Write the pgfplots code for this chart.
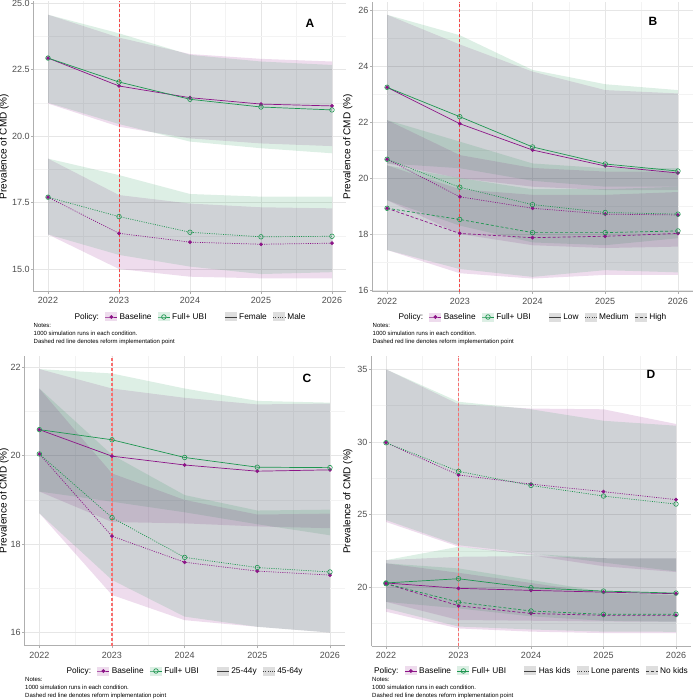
\documentclass[border=0pt]{standalone}
\usepackage{fontspec}
\setmainfont{Liberation Sans}
\usepackage{pgfplots}
\pgfplotsset{compat=1.18}

\definecolor{cpur}{RGB}{140,20,135}
\definecolor{cgrn}{RGB}{30,150,80}
\definecolor{tickc}{RGB}{77,77,77}
\definecolor{axc}{RGB}{175,175,175}
\definecolor{gmaj}{RGB}{230,230,230}
\definecolor{gmin}{RGB}{243,243,243}
\definecolor{lineA}{RGB}{245,70,70}
\definecolor{lineC}{RGB}{248,110,110}
\definecolor{keyg}{RGB}{222,222,222}

\pgfplotsset{
 panel/.style={
  scale only axis,
  axis x line*=bottom, axis y line*=left,
  axis line style={draw=axc, line width=0.8pt, -},
  x axis line style={-}, y axis line style={-},
  xmin=2021.8, xmax=2026.2,
  xtick={2022,2023,2024,2025,2026},
  minor xtick={2022.5,2023.5,2024.5,2025.5},
  /pgf/number format/1000 sep={},
  /pgf/number format/assume math mode=true,
  grid=both,
  major grid style={draw=gmaj, line width=0.6pt},
  minor grid style={draw=gmin, line width=0.4pt},
  tick align=outside,
  major tick length=2.5pt,
  minor tick length=0pt,
  tick style={draw=axc, line width=0.6pt},
  tick label style={font=\fontsize{9}{10}\selectfont, text=tickc},
  yticklabel style={inner xsep=1.5pt},
  ylabel={Prevalence of CMD (\%)},
  ylabel style={font=\fontsize{9.5}{11}\selectfont, inner sep=0pt},
  legend columns=-1,
  legend style={draw=none, fill=none, font=\fontsize{8.3}{9}\selectfont, anchor=center,
    /tikz/every even column/.append style={column sep=4pt}},
  legend cell align=left,
 },
 ylab/.style={every axis y label/.style={at={([xshift=-#1]axis description cs:0,0.5)}, rotate=90, anchor=south}},
 rib/.style={draw=none, fill=#1, fill opacity=0.15, forget plot, mark=none},
 lb/.style={cpur, line width=0.7pt, mark=*, mark size=1.5pt, mark options={solid}, forget plot},
 lu/.style={cgrn, line width=0.7pt, mark=o, mark size=2.3pt, mark options={solid, line width=0.6pt}, forget plot},
 sol/.style={solid},
 dot/.style={dash pattern=on 1pt off 1.3pt},
 dsh/.style={dash pattern=on 3pt off 2pt},
 polb/.style={cpur, line width=0.7pt, mark=*, mark size=1.5pt,
   legend image code/.code={\path[fill=cpur, fill opacity=0.15, draw=none] (0pt,-4.5pt) rectangle (12pt,4.5pt);
   \draw[mark repeat=2,mark phase=2] plot coordinates {(0pt,0pt) (6pt,0pt) (12pt,0pt)};}},
 polu/.style={cgrn, line width=0.7pt, mark=o, mark size=2.3pt,
   legend image code/.code={\path[fill=cgrn, fill opacity=0.15, draw=none] (0pt,-4.5pt) rectangle (12pt,4.5pt);
   \draw[mark repeat=2,mark phase=2] plot coordinates {(0pt,0pt) (6pt,0pt) (12pt,0pt)};}},
 ltk/.style={black!75, line width=0.6pt,
   legend image code/.code={\path[fill=keyg, draw=none] (0pt,-4.5pt) rectangle (12pt,4.5pt);
   \draw (0pt,0pt) -- (12pt,0pt);}},
}

\newcommand{\notes}{Notes:\\1000 simulation runs in each condition.\\Dashed red line denotes reform implementation point}

\begin{document}
\begin{tikzpicture}[x=1pt,y=1pt]
\path[use as bounding box] (0,0) rectangle (693,-700);

% ---------------- Panel A ----------------
\begin{axis}[panel, ylab=21.5pt, at={(33.8pt,-291.6pt)}, anchor=south west,
  width=312.4pt, height=290.2pt,
  ymin=14.15, ymax=25.06,
  ytick={15,17.5,20,22.5,25}, minor ytick={16.25,18.75,21.25,23.75},
  yticklabel style={/pgf/number format/.cd, fixed, fixed zerofill, precision=1},
  legend style={at={(0.5,-0.0875)}}]
\addplot[rib=cpur] coordinates {(2022,24.56)(2023,23.70)(2024,23.08)(2025,22.90)(2026,22.80)(2026,19.62)(2025,19.72)(2024,19.91)(2023,20.35)(2022,21.22)};
\addplot[rib=cgrn] coordinates {(2022,24.56)(2023,23.86)(2024,23.05)(2025,22.80)(2026,22.67)(2026,19.35)(2025,19.54)(2024,19.79)(2023,20.45)(2022,21.25)};
\addplot[rib=cpur] coordinates {(2022,19.15)(2023,17.78)(2024,17.46)(2025,17.32)(2026,17.28)(2026,14.65)(2025,14.65)(2024,14.71)(2023,15.00)(2022,16.30)};
\addplot[rib=cgrn] coordinates {(2022,19.15)(2023,18.53)(2024,17.82)(2025,17.72)(2026,17.72)(2026,14.88)(2025,14.81)(2024,15.09)(2023,15.53)(2022,16.30)};
\addplot[draw=lineA, dash pattern=on 3pt off 2pt, line width=0.9pt, forget plot, mark=none] coordinates {(2023,14.15)(2023,25.06)};
\addplot[lb, sol] coordinates {(2022,22.93)(2023,21.88)(2024,21.44)(2025,21.20)(2026,21.13)};
\addplot[lu, sol] coordinates {(2022,22.93)(2023,22.03)(2024,21.38)(2025,21.09)(2026,20.98)};
\addplot[lb, dot] coordinates {(2022,17.70)(2023,16.34)(2024,16.01)(2025,15.93)(2026,15.97)};
\addplot[lu, dot] coordinates {(2022,17.70)(2023,16.97)(2024,16.38)(2025,16.21)(2026,16.23)};
\addlegendimage{empty legend}\addlegendentry{Policy:}
\addlegendimage{polb}\addlegendentry{Baseline}
\addlegendimage{polu}\addlegendentry{Full+ UBI}
\addlegendimage{empty legend}\addlegendentry{\hspace*{4pt}}
\addlegendimage{ltk, solid}\addlegendentry{Female}
\addlegendimage{ltk, dot}\addlegendentry{Male}
\end{axis}

% ---------------- Panel B ----------------
\begin{axis}[panel, ylab=16.5pt, at={(372.5pt,-291.7pt)}, anchor=south west,
  width=320pt, height=290.1pt,
  ymin=15.94, ymax=26.3,
  ytick={16,18,20,22,24,26}, minor ytick={17,19,21,23,25},
  legend style={at={(0.5,-0.0872)}}]
\addplot[rib=cpur] coordinates {(2022,25.83)(2023,24.77)(2024,23.80)(2025,23.14)(2026,23.02)(2026,19.57)(2025,19.57)(2024,19.69)(2023,19.99)(2022,20.52)};
\addplot[rib=cgrn] coordinates {(2022,25.83)(2023,25.10)(2024,23.86)(2025,23.35)(2026,23.14)(2026,19.69)(2025,19.69)(2024,19.90)(2023,20.35)(2022,20.52)};
\addplot[rib=cpur] coordinates {(2022,22.07)(2023,20.82)(2024,20.36)(2025,20.23)(2026,20.23)(2026,17.55)(2025,17.50)(2024,17.60)(2023,18.00)(2022,19.21)};
\addplot[rib=cgrn] coordinates {(2022,22.07)(2023,21.30)(2024,20.52)(2025,20.35)(2026,20.35)(2026,17.85)(2025,17.60)(2024,17.70)(2023,18.30)(2022,19.21)};
\addplot[rib=cpur] coordinates {(2022,20.45)(2023,19.60)(2024,19.40)(2025,19.40)(2026,19.50)(2026,16.54)(2025,16.54)(2024,16.41)(2023,16.60)(2022,17.43)};
\addplot[rib=cgrn] coordinates {(2022,20.45)(2023,20.00)(2024,19.60)(2025,19.60)(2026,19.69)(2026,16.63)(2025,16.71)(2024,16.47)(2023,16.75)(2022,17.43)};
\addplot[draw=lineA, dash pattern=on 3pt off 2pt, line width=0.9pt, forget plot, mark=none] coordinates {(2023,15.94)(2023,26.3)};
\addplot[lb, sol] coordinates {(2022,23.24)(2023,21.94)(2024,21.00)(2025,20.43)(2026,20.18)};
\addplot[lu, sol] coordinates {(2022,23.24)(2023,22.19)(2024,21.11)(2025,20.50)(2026,20.25)};
\addplot[lb, dot] coordinates {(2022,20.67)(2023,19.33)(2024,18.92)(2025,18.71)(2026,18.68)};
\addplot[lu, dot] coordinates {(2022,20.67)(2023,19.67)(2024,19.05)(2025,18.77)(2026,18.71)};
\addplot[lb, dsh] coordinates {(2022,18.92)(2023,18.02)(2024,17.87)(2025,17.92)(2026,18.02)};
\addplot[lu, dsh] coordinates {(2022,18.92)(2023,18.52)(2024,18.05)(2025,18.05)(2026,18.11)};
\addlegendimage{empty legend}\addlegendentry{Policy:}
\addlegendimage{polb}\addlegendentry{Baseline}
\addlegendimage{polu}\addlegendentry{Full+ UBI}
\addlegendimage{empty legend}\addlegendentry{\hspace*{4pt}}
\addlegendimage{ltk, solid}\addlegendentry{Low}
\addlegendimage{ltk, dot}\addlegendentry{Medium}
\addlegendimage{ltk, dsh}\addlegendentry{High}
\end{axis}

% ---------------- Panel C ----------------
\begin{axis}[panel, ylab=12.5pt, at={(24.8pt,-645.8pt)}, anchor=south west,
  width=319.7pt, height=290pt,
  ymin=15.7, ymax=22.26,
  ytick={16,18,20,22}, minor ytick={17,19,21},
  legend style={at={(0.5,-0.0869)}}]
\addplot[rib=cpur] coordinates {(2022,21.96)(2023,21.52)(2024,21.31)(2025,21.16)(2026,21.18)(2026,18.36)(2025,18.40)(2024,18.47)(2023,18.50)(2022,19.19)};
\addplot[rib=cgrn] coordinates {(2022,21.96)(2023,21.86)(2024,21.52)(2025,21.24)(2026,21.20)(2026,18.20)(2025,18.45)(2024,18.72)(2023,18.96)(2022,19.19)};
\addplot[rib=cpur] coordinates {(2022,21.52)(2023,19.60)(2024,19.00)(2025,18.67)(2026,18.69)(2026,16.00)(2025,16.13)(2024,16.28)(2023,16.85)(2022,18.70)};
\addplot[rib=cgrn] coordinates {(2022,21.52)(2023,20.02)(2024,19.11)(2025,18.76)(2026,18.78)(2026,16.00)(2025,16.13)(2024,16.36)(2023,17.19)(2022,18.70)};
\addplot[draw=lineC, dash pattern=on 3pt off 2pt, line width=1.1pt, forget plot, mark=none] coordinates {(2023,15.7)(2023,22.26)};
\addplot[lb, sol] coordinates {(2022,20.59)(2023,19.99)(2024,19.79)(2025,19.65)(2026,19.68)};
\addplot[lu, sol] coordinates {(2022,20.59)(2023,20.36)(2024,19.96)(2025,19.74)(2026,19.73)};
\addplot[lb, dot] coordinates {(2022,20.04)(2023,18.18)(2024,17.59)(2025,17.39)(2026,17.30)};
\addplot[lu, dot] coordinates {(2022,20.04)(2023,18.60)(2024,17.70)(2025,17.47)(2026,17.37)};
\addlegendimage{empty legend}\addlegendentry{Policy:}
\addlegendimage{polb}\addlegendentry{Baseline}
\addlegendimage{polu}\addlegendentry{Full+ UBI}
\addlegendimage{empty legend}\addlegendentry{\hspace*{4pt}}
\addlegendimage{ltk, solid}\addlegendentry{25-44y}
\addlegendimage{ltk, dot}\addlegendentry{45-64y}
\end{axis}

% ---------------- Panel D ----------------
\begin{axis}[panel, ylab=15.5pt, at={(371.5pt,-646.3pt)}, anchor=south west,
  width=319pt, height=290.2pt,
  ymin=15.94, ymax=35.91,
  ytick={20,25,30,35}, minor ytick={17.5,22.5,27.5,32.5},
  legend style={at={(0.5,-0.085)}}]
\addplot[rib=cpur] coordinates {(2022,35.00)(2023,32.60)(2024,32.30)(2025,32.25)(2026,31.24)(2026,21.05)(2025,21.45)(2024,22.20)(2023,22.80)(2022,24.50)};
\addplot[rib=cgrn] coordinates {(2022,35.00)(2023,32.77)(2024,32.25)(2025,31.46)(2026,31.12)(2026,21.10)(2025,21.70)(2024,22.34)(2023,22.90)(2022,24.63)};
\addplot[rib=cpur] coordinates {(2022,21.87)(2023,22.10)(2024,22.15)(2025,22.00)(2026,21.99)(2026,17.63)(2025,17.65)(2024,17.70)(2023,17.75)(2022,19.00)};
\addplot[rib=cgrn] coordinates {(2022,21.87)(2023,22.79)(2024,22.30)(2025,22.00)(2026,21.99)(2026,17.63)(2025,17.70)(2024,18.00)(2023,18.55)(2022,19.00)};
\addplot[rib=cpur] coordinates {(2022,21.65)(2023,21.00)(2024,20.30)(2025,19.60)(2026,19.47)(2026,16.85)(2025,16.85)(2024,16.95)(2023,17.17)(2022,18.32)};
\addplot[rib=cgrn] coordinates {(2022,21.65)(2023,21.30)(2024,20.50)(2025,19.70)(2026,19.50)(2026,16.94)(2025,16.95)(2024,17.10)(2023,17.30)(2022,18.55)};
\addplot[draw=lineC, dash pattern=on 3pt off 2pt, line width=1.1pt, forget plot, mark=none] coordinates {(2023,15.94)(2023,35.91)};
\addplot[lb, sol] coordinates {(2022,20.30)(2023,19.93)(2024,19.79)(2025,19.67)(2026,19.56)};
\addplot[lu, sol] coordinates {(2022,20.30)(2023,20.59)(2024,19.97)(2025,19.74)(2026,19.60)};
\addplot[lb, dot] coordinates {(2022,29.95)(2023,27.73)(2024,27.10)(2025,26.58)(2026,26.03)};
\addplot[lu, dot] coordinates {(2022,29.95)(2023,27.98)(2024,27.01)(2025,26.28)(2026,25.73)};
\addplot[lb, dsh] coordinates {(2022,20.25)(2023,18.73)(2024,18.20)(2025,18.07)(2026,18.07)};
\addplot[lu, dsh] coordinates {(2022,20.25)(2023,18.98)(2024,18.37)(2025,18.14)(2026,18.14)};
\addlegendimage{empty legend}\addlegendentry{Policy:}
\addlegendimage{polb}\addlegendentry{Baseline}
\addlegendimage{polu}\addlegendentry{Full+ UBI}
\addlegendimage{empty legend}\addlegendentry{\hspace*{4pt}}
\addlegendimage{ltk, solid}\addlegendentry{Has kids}
\addlegendimage{ltk, dot}\addlegendentry{Lone parents}
\addlegendimage{ltk, dsh}\addlegendentry{No kids}
\end{axis}

% panel letters
\node[font=\bfseries\fontsize{12}{12}\selectfont] at (310,-23) {A};
\node[font=\bfseries\fontsize{12}{12}\selectfont] at (653,-21) {B};
\node[font=\bfseries\fontsize{12}{12}\selectfont] at (307,-378) {C};
\node[font=\bfseries\fontsize{12}{12}\selectfont] at (651,-374) {D};

% notes
\tikzset{notenode/.style={anchor=north west, inner sep=0pt, align=left, font=\fontsize{6}{8}\selectfont}}
\node[notenode] at (33.5,-323) {\notes};
\node[notenode] at (372.5,-323) {\notes};
\node[notenode] at (25,-677) {\notes};
\node[notenode] at (372,-677) {\notes};
\end{tikzpicture}
\end{document}
